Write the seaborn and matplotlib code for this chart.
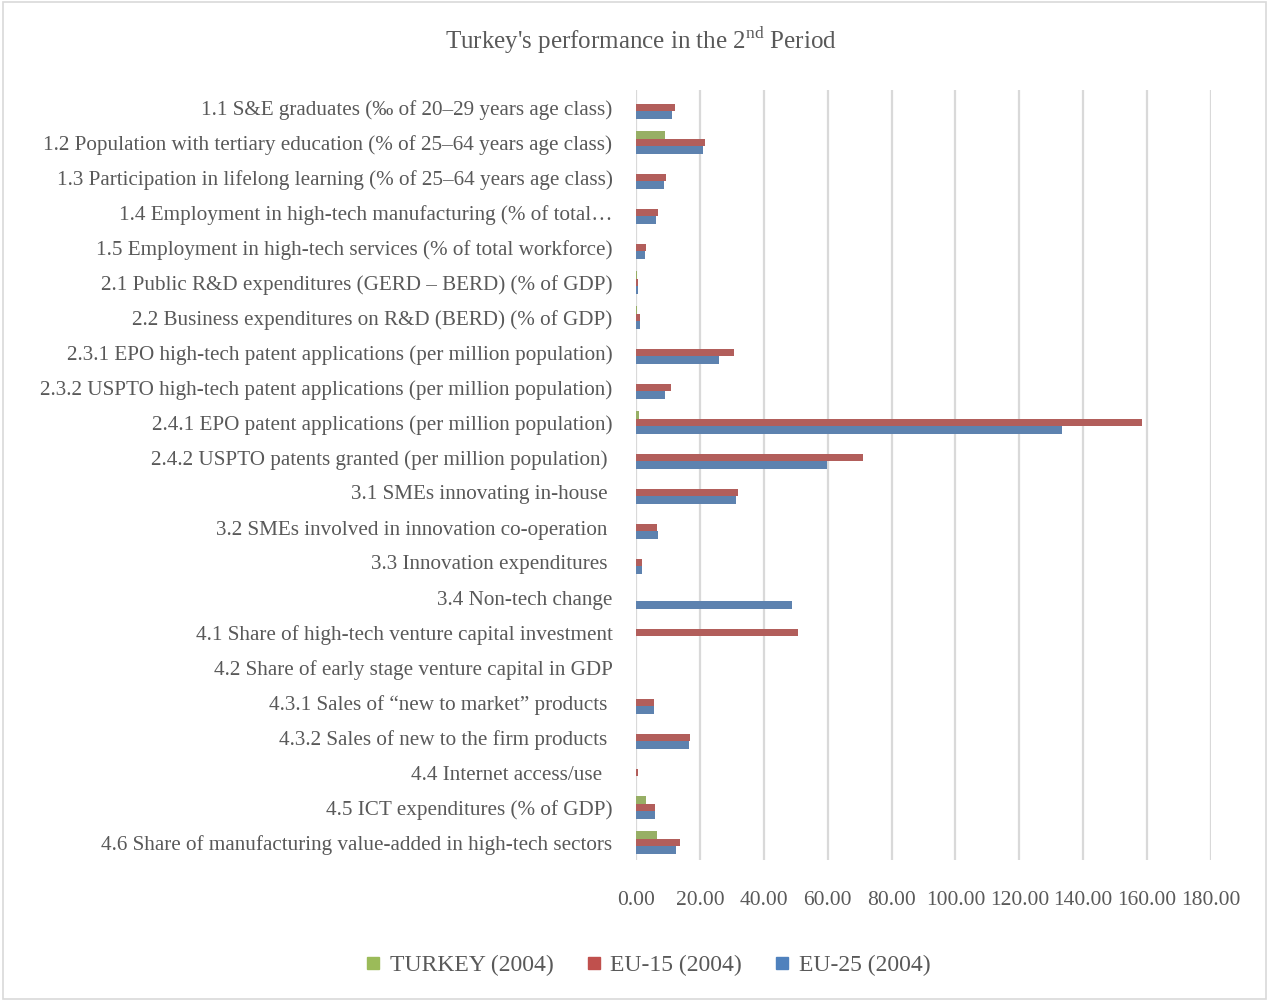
import numpy as np
import pandas as pd
import matplotlib
matplotlib.use("Agg")
import matplotlib.pyplot as plt
import seaborn as sns
from matplotlib.patches import Rectangle
from matplotlib.lines import Line2D

categories = [
    "1.1 S&E graduates (‰ of 20–29 years age class)",
    "1.2 Population with tertiary education (% of 25–64 years age class)",
    "1.3 Participation in lifelong learning (% of 25–64 years age class)",
    "1.4 Employment in high-tech manufacturing (% of total…",
    "1.5 Employment in high-tech services (% of total workforce)",
    "2.1 Public R&D expenditures (GERD – BERD) (% of GDP)",
    "2.2 Business expenditures on R&D (BERD) (% of GDP)",
    "2.3.1 EPO high-tech patent applications (per million population)",
    "2.3.2 USPTO high-tech patent applications (per million population)",
    "2.4.1 EPO patent applications (per million population)",
    "2.4.2 USPTO patents granted (per million population) ",
    "3.1 SMEs innovating in-house ",
    "3.2 SMEs involved in innovation co-operation ",
    "3.3 Innovation expenditures ",
    "3.4 Non-tech change",
    "4.1 Share of high-tech venture capital investment",
    "4.2 Share of early stage venture capital in GDP",
    "4.3.1 Sales of “new to market” products ",
    "4.3.2 Sales of new to the firm products ",
    "4.4 Internet access/use  ",
    "4.5 ICT expenditures (% of GDP)",
    "4.6 Share of manufacturing value-added in high-tech sectors",
]
turkey = [0, 9.1, 0, 0, 0, 0.2, 0.2, 0, 0, 0.8, 0, 0, 0, 0, 0, 0, 0, 0, 0, 0, 3.0, 6.5]
eu15 = [12.2, 21.7, 9.4, 6.8, 3.2, 0.7, 1.2, 30.7, 11.0, 158.4, 71.1, 31.8, 6.6, 1.9,
        0, 50.7, 0, 5.6, 16.8, 0.5, 6.1, 13.9]
eu25 = [11.2, 21.0, 8.8, 6.4, 2.9, 0.6, 1.2, 25.9, 9.2, 133.4, 59.8, 31.3, 6.8, 1.9,
        48.8, 0, 0, 5.6, 16.6, 0, 6.1, 12.4]
series = ["TURKEY (2004)", "EU-15 (2004)", "EU-25 (2004)"]
colors = ["#9BBB59", "#C0504D", "#4F81BD"]
xticks = [0, 20, 40, 60, 80, 100, 120, 140, 160, 180]

df = pd.DataFrame({"category": categories, series[0]: turkey, series[1]: eu15, series[2]: eu25})
long = df.melt(id_vars="category", var_name="series", value_name="value")

sns.set_theme(style="white")
plt.rcParams["font.family"] = ["Liberation Serif", "DejaVu Serif"]
plt.rcParams["mathtext.fontset"] = "custom"
plt.rcParams["mathtext.rm"] = "Liberation Serif"

txt = "#595959"
fig = plt.figure(figsize=(12.69, 10.01), dpi=100)
ax = fig.add_axes([636 / 1269, 1 - 860 / 1001, (1211 - 636) / 1269, (860 - 90) / 1001])

sns.barplot(data=long, y="category", x="value", hue="series", order=categories,
            hue_order=series, palette=colors, width=0.64, linewidth=0,
            orient="h", ax=ax, legend=False, errorbar=None)

ax.set_xlim(0, 180)
ax.set_xticks(xticks)
ax.set_xticklabels([f"{v:.2f}" for v in xticks])
ax.set_xlabel("")
ax.set_ylabel("")
ax.grid(axis="x", color="#D9D9D9", linewidth=1.6)
ax.set_axisbelow(True)
for s in ax.spines.values():
    s.set_visible(False)
ax.tick_params(axis="x", length=0, pad=22, labelsize=15.5, labelcolor=txt)
ax.tick_params(axis="y", length=0, pad=17, labelsize=15.2, labelcolor=txt)

fig.text(0.505, 1 - 41 / 1001, "Turkey's performance in the 2$^{\\mathrm{nd}}$ Period",
         ha="center", va="center", fontsize=18, color=txt)

handles = [Line2D([], [], marker="s", linestyle="", markersize=9, color=c) for c in colors]
fig.legend(handles, series, loc="center", bbox_to_anchor=(647 / 1269, 1 - 965 / 1001),
           ncol=3, frameon=False, fontsize=17, labelcolor=txt, handletextpad=0.3,
           handlelength=0.8, columnspacing=1.3)

fig.patches.append(Rectangle((0.002, 0.002), 0.996, 0.996, transform=fig.transFigure,
                             fill=False, edgecolor="#D9D9D9", linewidth=1.2))

fig.savefig("out.png", dpi=100)
